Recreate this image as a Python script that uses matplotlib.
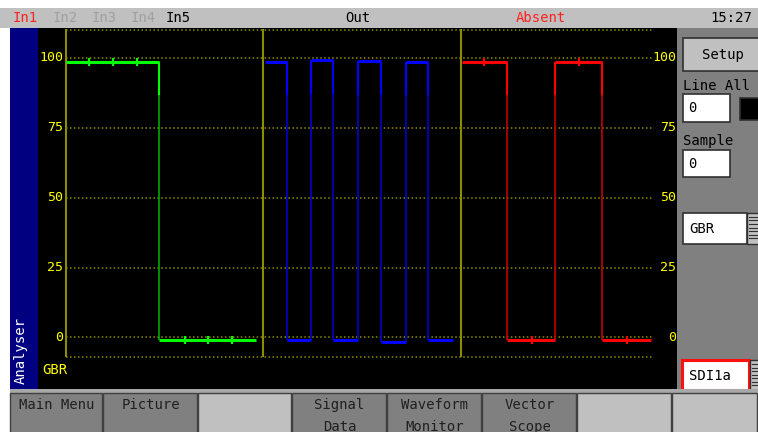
import matplotlib
matplotlib.use("Agg")
import matplotlib.pyplot as plt
from matplotlib.patches import Rectangle

# parade waveform, x in fractions of one cell (0..1), y in %
scale_ticks = [0, 25, 50, 75, 100]
scale_limits = [-7, 110]

green_edges = [0.0, 0.47, 0.96]
green_levels = [98.6, -0.9]
green_marks = [0.116, 0.237, 0.358, 0.603, 0.72, 0.839]

blue_edges = [0.01, 0.117, 0.24, 0.35, 0.48, 0.595, 0.722, 0.835, 0.96]
blue_levels = [98.6, -0.9, 99.2, -0.9, 98.8, -1.5, 98.6, -0.9]
blue_marks = []

red_edges = [0.005, 0.235, 0.478, 0.713, 0.96]
red_levels = [98.7, -0.9, 98.7, -0.9]
red_marks = [0.116, 0.358, 0.597, 0.839]

inputs = ["In1", "In2", "In3", "In4", "In5"]
input_x = [13, 53, 92, 131, 166]
input_colors = ["#ff2020", "#a0a0a0", "#a0a0a0", "#a0a0a0", "#000000"]
softkeys = ["Main Menu", "Picture", "", "Signal\nData", "Waveform\nMonitor",
            "Vector\nScope", "", ""]

W, H = 758, 432
MONO = "DejaVu Sans Mono"
fig = plt.figure(figsize=(W / 100, H / 100), dpi=100)
fig.patch.set_facecolor("white")


def rect(x0, y0, x1, y1, fc, ec="none", lw=0):
    fig.patches.append(Rectangle((x0 / W, 1 - y1 / H), (x1 - x0) / W, (y1 - y0) / H,
                                 transform=fig.transFigure, facecolor=fc,
                                 edgecolor=ec, linewidth=lw))


def txt(x, y, s, ha="left", color="black", size=10, **kw):
    fig.text(x / W, 1 - y / H, s, ha=ha, va="center", color=color,
             fontsize=size, family=MONO, **kw)


# status bar
rect(0, 8, W, 28, "#c0c0c0")
for name, x, c in zip(inputs, input_x, input_colors):
    txt(x, 18, name, color=c)
txt(358, 18, "Out", ha="center")
txt(541, 18, "Absent", ha="center", color="#ff2020")
txt(752, 18, "15:27", ha="right")

# left strip
rect(10, 28, 38, 390, "#000080")
txt(21, 350, "Analyser", ha="center", color="white", size=10, rotation=90)

# scope
ax = fig.add_axes([38 / W, 1 - 390 / H, 640 / W, 362 / H])
ax.set_facecolor("black")
ax.set_xlim(-0.1418, 3.099)
ax.set_ylim(-18.8, 110.7)
ax.set_axis_off()
ax.add_patch(Rectangle((0, 0), 1, 1, transform=ax.transAxes, facecolor="black", zorder=0))

for v in scale_ticks + scale_limits:
    ax.hlines(v, 0, 2.97, colors="#8c8c00", linewidth=1.1, linestyles=(0, (1, 1.6)))
ax.vlines([0, 1, 2], scale_limits[0], scale_limits[1] + 0.5, colors="#8c8c00", linewidth=1.5)
for v in scale_ticks:
    ax.text(-0.015, v, str(v), ha="right", va="center", color="#ffff00", fontsize=9.5, family=MONO)
    ax.text(3.089, v, str(v), ha="right", va="center", color="#ffff00", fontsize=9.5, family=MONO)
ax.text(-0.122, -11.6, "GBR", ha="left", va="center", color="#ffff00", fontsize=10, family=MONO)

channels = [
    (0, green_edges, green_levels, green_marks, "#00ff00", "#00a800"),
    (1, blue_edges, blue_levels, blue_marks, "#0000ff", "#0000c8"),
    (2, red_edges, red_levels, red_marks, "#ff0000", "#c00000"),
]
for cell, edges, levels, marks, bright, dark in channels:
    xs = [cell + e for e in edges]
    for i, lev in enumerate(levels):
        ax.hlines(lev, xs[i], xs[i + 1], colors=bright, linewidth=2.2, zorder=3)
    for i in range(1, len(levels)):
        lo, hi = sorted([levels[i - 1], levels[i]])
        ax.vlines(xs[i], lo, hi, colors=dark, linewidth=1.2, zorder=2)
        ax.vlines(xs[i], hi - 12, hi, colors=bright, linewidth=1.5, zorder=2)
    for m in marks:
        lev = next(levels[i] for i in range(len(levels)) if xs[i] <= cell + m < xs[i + 1])
        ax.plot(cell + m, lev, marker="|", markersize=6, mew=1.6, color=bright, zorder=4)

# right panel
rect(677, 28, W, 390, "#808080")
rect(683, 38, W + 2, 71, "#c0c0c0", "#303030", 1.2)
txt(723, 55, "Setup", ha="center")
txt(683, 86, "Line All")
rect(683, 94, 730, 122, "white", "#303030", 1.2)
txt(688, 108, "0")
rect(740, 98, W + 2, 120, "black", "#303030", 1.2)
txt(683, 141, "Sample")
rect(683, 150, 730, 177, "white", "#303030", 1.2)
txt(688, 164, "0")
rect(683, 213, 747, 244, "white", "#303030", 1.2)
txt(689, 229, "GBR")
rect(747, 213, W + 2, 244, "#c0c0c0", "#303030", 1.0)
for k in range(7):
    fig.lines.append(plt.Line2D([749 / W, 1], [1 - (217 + 3.5 * k) / H] * 2,
                                transform=fig.transFigure, color="#303030", linewidth=0.8))
rect(682, 360, 749, 390, "white", "#ff1010", 2.2)
txt(689, 376, "SDI1a")
rect(750, 360, W + 2, 390, "#c0c0c0", "#303030", 1.0)
for k in range(7):
    fig.lines.append(plt.Line2D([752 / W, 1], [1 - (364 + 3.5 * k) / H] * 2,
                                transform=fig.transFigure, color="#303030", linewidth=0.8))

# soft keys (second line is cut by the screen edge, as on the device)
rect(10, 389, W, 393, "#a8a8a8")
key_x = [10, 103, 198, 292, 387, 482, 577, 672, W]
for i, label in enumerate(softkeys):
    x0, x1 = key_x[i], key_x[i + 1]
    fc = "#c0c0c0" if label == "" else "#808080"
    rect(x0, 393, x1 - 1, H + 2, fc, "#404040", 1.0)
    if label:
        lines = label.split("\n")
        for j, ln in enumerate(lines):
            txt((x0 + x1) / 2, 405 + 22 * j, ln, ha="center", color="#202020")

fig.savefig("out.png", dpi=100, facecolor=fig.get_facecolor())
